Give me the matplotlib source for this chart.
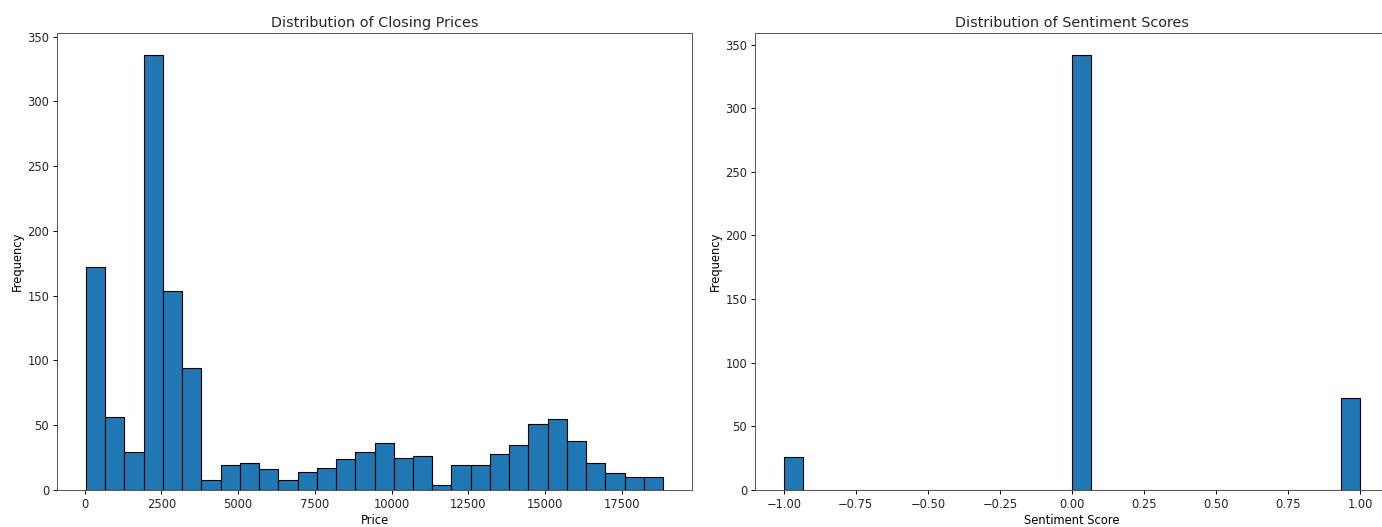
import matplotlib
matplotlib.use('Agg')
import matplotlib.pyplot as plt
import numpy as np

# closing price histogram (30 bins), counts
price_min = 40
price_max = 18850
price_counts = [172, 56, 29, 336, 154, 94, 8, 19, 21, 16,
                8, 14, 17, 24, 29, 36, 25, 26, 4, 19,
                19, 28, 35, 51, 55, 38, 21, 13, 10, 10]

# sentiment scores
sentiment_values = [-1, 0, 1]
sentiment_counts = [26, 342, 72]

plt.rcParams['font.family'] = 'DejaVu Sans'
plt.rcParams['font.size'] = 8.3
plt.rcParams['axes.linewidth'] = 0.7
plt.rcParams['xtick.major.size'] = 2.8
plt.rcParams['ytick.major.size'] = 2.8
plt.rcParams['xtick.major.width'] = 0.7
plt.rcParams['ytick.major.width'] = 0.7
plt.rcParams['xtick.major.pad'] = 2.8
plt.rcParams['ytick.major.pad'] = 2.8
plt.rcParams['text.color'] = '#262626'
plt.rcParams['xtick.labelcolor'] = '#262626'
plt.rcParams['ytick.labelcolor'] = '#262626'

W, H = 1382, 527
fig = plt.figure(figsize=(W / 100, H / 100), dpi=100)

ax1 = fig.add_axes([57 / W, 1 - 490 / H, (692 - 57) / W, (490 - 33) / H])
ax2 = fig.add_axes([755 / W, 1 - 490 / H, (1389 - 755) / W, (490 - 33) / H])

edges = np.linspace(price_min, price_max, len(price_counts) + 1)
ax1.hist(edges[:-1], bins=edges, weights=price_counts,
         color='#1f77b4', edgecolor='black', linewidth=0.8)
ax1.set_title('Distribution of Closing Prices', fontsize=10.4, pad=4.5)
ax1.set_xlabel('Price', labelpad=2.5)
ax1.set_ylabel('Frequency', labelpad=2.5)

ax2.hist(sentiment_values, bins=30, weights=sentiment_counts,
         color='#1f77b4', edgecolor='black', linewidth=0.8)
ax2.set_title('Distribution of Sentiment Scores', fontsize=10.4, pad=4.5)
ax2.set_xlabel('Sentiment Score', labelpad=2.5)
ax2.set_ylabel('Frequency', labelpad=2.5)

for ax in (ax1, ax2):
    for s in ax.spines.values():
        s.set_color('#555555')

fig.savefig('out.png', dpi=100)
